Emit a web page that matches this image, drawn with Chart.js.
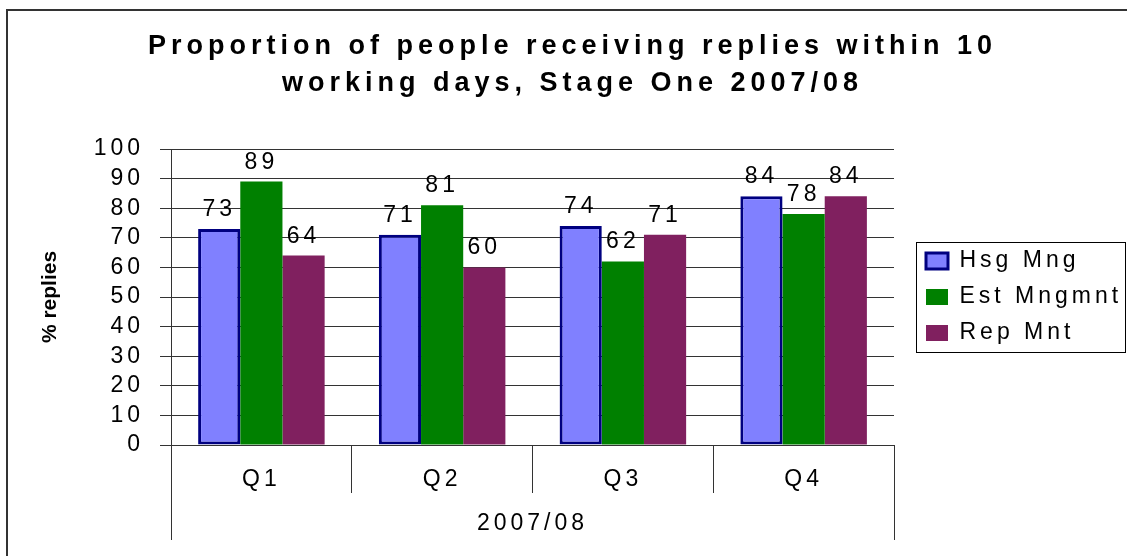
<!DOCTYPE html>
<html>
<head>
<meta charset="utf-8">
<title>Proportion of people receiving replies within 10 working days</title>
<script src="https://cdn.jsdelivr.net/npm/chart.js@4"></script>
<style>
    html, body { margin: 0; padding: 0; background: #fff; }
</style>
</head>
<body>
<canvas id="replies-chart" width="1127" height="556"></canvas>
<script>
"use strict";

// ---------------------------------------------------------
// Data
// ---------------------------------------------------------
const titleLines = [
    "Proportion of people receiving replies within 10",
    "working days, Stage One 2007/08",
];
const quarters = ["Q1", "Q2", "Q3", "Q4"];
const yearLabel = "2007/08";
const yTitle = "% replies";
const seriesNames = ["Hsg Mng", "Est Mngmnt", "Rep Mnt"];
const hsgMng = [73, 71, 74, 84];
const estMngmnt = [89, 81, 62, 78];
const repMnt = [64, 60, 71, 84];
const yMin = 0;
const yMax = 100;
const yStep = 10;


// ---------------------------------------------------------
// Look
// ---------------------------------------------------------
const FONT = "'Liberation Sans', Arial, sans-serif";
const FONT_SIZE = 23;
const SPACING = "4px";
const LINE = "#333";

// wraps a draw method so it runs with its own letter spacing
function wrapDraw(obj, name, spacing, dx) {
    const orig = obj[name];
    obj[name] = function () {
        const ctx = this.ctx;
        ctx.save();
        ctx.letterSpacing = spacing;
        ctx.translate(dx, 0);
        const r = orig.apply(this, arguments);
        ctx.restore();
        return r;
    };
}

const spacingPlugin = {
    id: "letterSpacing",
    beforeUpdate(chart) {
        chart.ctx.letterSpacing = SPACING;
    },
    beforeDraw(chart) {
        chart.ctx.letterSpacing = SPACING;
        if (!chart.$wrapped) {
            wrapDraw(chart.titleBlock, "draw", "5px", 9);
            wrapDraw(chart.scales.y, "drawTitle", "0px", 0);
            chart.$wrapped = true;
        }
    },
};

const decorPlugin = {
    id: "decor",
    beforeDraw(chart) {
        // outer frame
        const ctx = chart.ctx;
        ctx.save();
        ctx.strokeStyle = "#333";
        ctx.lineWidth = 2;
        ctx.strokeRect(7, 10, chart.width, chart.height);
        ctx.restore();
    },
    afterDatasetsDraw(chart) {
        // value labels above bars
        const ctx = chart.ctx;
        ctx.save();
        ctx.font = FONT_SIZE + "px " + FONT;
        ctx.fillStyle = "#000";
        ctx.textAlign = "center";
        ctx.textBaseline = "alphabetic";
        chart.data.datasets.forEach((ds, i) => {
            chart.getDatasetMeta(i).data.forEach((bar, j) => {
                ctx.fillText(String(ds.data[j]), bar.x, bar.y - 13);
            });
        });
        ctx.restore();
    },
    afterDraw(chart) {
        const ctx = chart.ctx;
        const xs = chart.scales.x;
        ctx.save();
        ctx.strokeStyle = LINE;
        ctx.lineWidth = 1;

        // long outer lines of the grouped category axis
        ctx.beginPath();
        [xs.left, xs.right].forEach((px) => {
            const p = Math.round(px) + 0.5;
            ctx.moveTo(p, xs.top);
            ctx.lineTo(p, xs.top + 95);
        });
        ctx.stroke();

        // legend frame
        const lg = chart.legend;
        const hb = lg.legendHitBoxes;
        if (hb && hb.length) {
            const last = hb[hb.length - 1];
            const top = Math.round(hb[0].top - 8) + 0.5;
            const bottom = Math.round(last.top + last.height + 7) + 0.5;
            const left = Math.round(lg.left + 3) + 0.5;
            const right = chart.width - 1.5;
            ctx.strokeStyle = "#000";
            ctx.strokeRect(left, top, right - left, bottom - top);
        }
        ctx.restore();
    },
};


// ---------------------------------------------------------
// Chart
// ---------------------------------------------------------
const canvas = document.getElementById("replies-chart");

new Chart(canvas, {
    type: "bar",
    data: {
        labels: quarters,
        datasets: [
            {
                label: seriesNames[0],
                data: hsgMng,
                backgroundColor: "#8080FF",
                borderColor: "#000080",
                borderWidth: 3,
                borderSkipped: false,
            },
            {
                label: seriesNames[1],
                data: estMngmnt,
                backgroundColor: "#008000",
                borderWidth: 0,
            },
            {
                label: seriesNames[2],
                data: repMnt,
                backgroundColor: "#80205F",
                borderWidth: 0,
            },
        ],
    },
    options: {
        responsive: false,
        animation: false,
        devicePixelRatio: 1,
        layout: { padding: 0 },
        datasets: {
            bar: { categoryPercentage: 0.7, barPercentage: 1 },
        },
        plugins: {
            title: {
                display: true,
                text: titleLines,
                color: "#000",
                font: { family: FONT, size: 27, weight: "bold", lineHeight: 37 / 27 },
                padding: { top: 28, bottom: 47 },
            },
            legend: {
                position: "right",
                fullSize: false,
                maxWidth: 214,
                align: "center",
                labels: {
                    color: "#000",
                    font: { family: FONT, size: FONT_SIZE },
                    boxWidth: 22,
                    boxHeight: 16,
                    padding: 13,
                },
            },
            tooltip: { enabled: false },
        },
        scales: {
            x: {
                grid: { offset: true, drawOnChartArea: false, tickLength: 48, color: LINE },
                border: { color: LINE },
                ticks: { color: "#000", font: { family: FONT, size: FONT_SIZE }, padding: -27 },
                title: {
                    display: true,
                    text: yearLabel,
                    color: "#000",
                    font: { family: FONT, size: FONT_SIZE },
                    padding: { top: 0, bottom: 19 },
                },
                afterFit(s) { s.height = 111; },
            },
            y: {
                min: yMin,
                max: yMax,
                ticks: {
                    stepSize: yStep,
                    autoSkip: false,
                    color: "#000",
                    font: { family: FONT, size: FONT_SIZE },
                    padding: 16,
                },
                grid: { color: LINE, tickLength: 11 },
                border: { color: LINE },
                title: {
                    display: true,
                    text: yTitle,
                    color: "#000",
                    font: { family: FONT, size: 21, weight: "bold" },
                    padding: { top: 38, bottom: 0 },
                },
                afterFit(s) { s.width = 171; },
            },
            spacer: {
                type: "linear",
                position: "right",
                display: true,
                grid: { display: false },
                border: { display: false },
                ticks: { display: false },
                afterFit(s) { s.width = 19; },
            },
        },
    },
    plugins: [spacingPlugin, decorPlugin],
});
</script>
</body>
</html>
